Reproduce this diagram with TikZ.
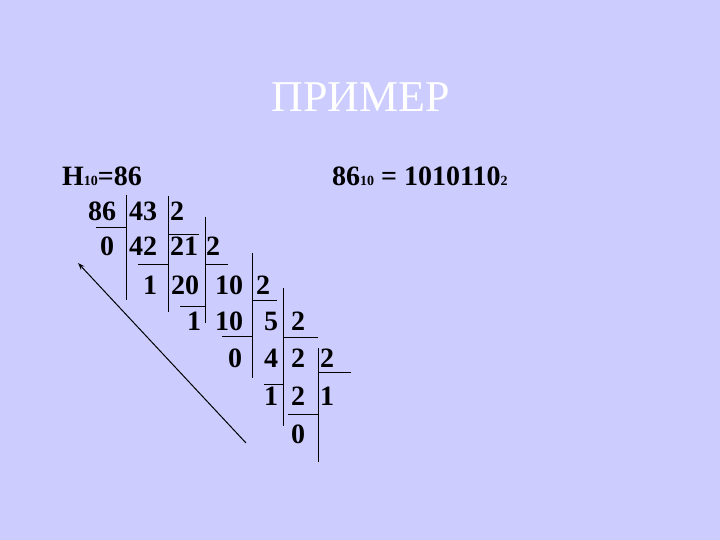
\documentclass[tikz,border=0pt]{standalone}
\usepackage{fontspec}
\setmainfont{Liberation Serif}
\usetikzlibrary{arrows.meta}

\definecolor{slidebg}{RGB}{204,204,255}

\tikzset{
  num/.style={font=\fontsize{28}{28}\selectfont\bfseries, inner sep=0pt, anchor=base},
  headline/.style={font=\fontsize{44}{44}\selectfont, text=white, inner sep=0pt, anchor=base},
  formula/.style={font=\fontsize{28}{28}\selectfont\bfseries, inner sep=0pt, anchor=base west},
  bar/.style={line width=1pt},
}
\newcommand{\lowidx}[1]{{\fontsize{14}{14}\selectfont #1}}

\begin{document}
\begin{tikzpicture}[x=1pt,y=-1pt]
  \fill[slidebg] (0,0) rectangle (720,540);
  \useasboundingbox (0,0) rectangle (720,540);

  \node[headline] (title) at (361,112) {ПРИМЕР};
  \node[formula] (given) at (62,186) {Н\lowidx{10}=86};
  \node[formula] (answer) at (332,186) {86\lowidx{10} = 1010110\lowidx{2}};

  % row 2
  \node[num] (r2a) at (102,221) {86};
  \node[num] (r2b) at (143,221) {43};
  \node[num] (r2c) at (177,221) {2};
  % row 3
  \node[num] (r3a) at (107,255) {0};
  \node[num] (r3b) at (143,255) {42};
  \node[num] (r3c) at (184,255) {21};
  \node[num] (r3d) at (213,255) {2};
  % row 4
  \node[num] (r4a) at (150,294) {1};
  \node[num] (r4b) at (185,294) {20};
  \node[num] (r4c) at (229,294) {10};
  \node[num] (r4d) at (263,294) {2};
  % row 5
  \node[num] (r5a) at (194,330) {1};
  \node[num] (r5b) at (229,330) {10};
  \node[num] (r5c) at (271,330) {5};
  \node[num] (r5d) at (298,330) {2};
  % row 6
  \node[num] (r6a) at (235,367) {0};
  \node[num] (r6b) at (271,367) {4};
  \node[num] (r6c) at (298,367) {2};
  \node[num] (r6d) at (327,367) {2};
  % row 7
  \node[num] (r7a) at (271,405) {1};
  \node[num] (r7b) at (298,405) {2};
  \node[num] (r7c) at (327,405) {1};
  % row 8
  \node[num] (r8a) at (298,443) {0};

  % division bars
  \draw[bar] (126,195) -- (126,300);
  \draw[bar] (168,196) -- (168,312);
  \draw[bar] (205,217) -- (205,323);
  \draw[bar] (252,253) -- (252,378);
  \draw[bar] (283,288) -- (283,426);
  \draw[bar] (318,348) -- (318,462);

  \draw[bar] (96,228) -- (126,228);
  \draw[bar] (168,234) -- (199,234);
  \draw[bar] (138,264) -- (168,264);
  \draw[bar] (205,264) -- (228,264);
  \draw[bar] (180,306) -- (205,306);
  \draw[bar] (252,300) -- (277,300);
  \draw[bar] (222,336) -- (252,336);
  \draw[bar] (283,337) -- (318,337);
  \draw[bar] (264,384) -- (283,384);
  \draw[bar] (318,372) -- (351,372);
  \draw[bar] (288,414) -- (318,414);

  % read the remainders upwards
  \coordinate (tail) at (246,443);
  \coordinate (head) at (78,263);
  \draw[line width=1pt, -{Stealth[length=7pt,width=5pt]}] (tail) -- (head);
\end{tikzpicture}
\end{document}
